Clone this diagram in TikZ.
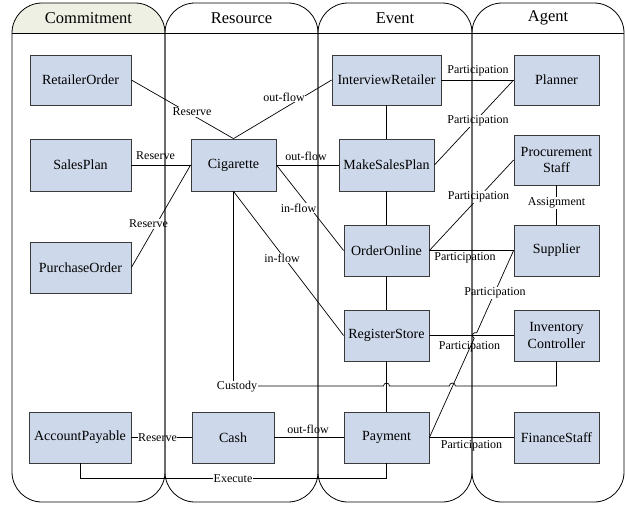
\documentclass[tikz,border=0pt]{standalone}
\usepackage{fontspec}
\setmainfont{Liberation Serif}
\usetikzlibrary{calc}
\definecolor{boxfill}{HTML}{CDD8EA}
\definecolor{boxline}{HTML}{3A3A3A}
\definecolor{hdrfill}{HTML}{EDF0E2}
\tikzset{
  ent/.style={rectangle, draw=boxline, fill=boxfill, line width=0.8pt,
    font=\fontsize{14}{16.5}\selectfont, align=center, inner sep=1pt},
  lbl/.style={font=\fontsize{12}{14}\selectfont, fill=white, inner sep=0.6pt},
  lblclear/.style={font=\fontsize{12}{14}\selectfont, inner sep=0.6pt},
  link/.style={draw=black, line width=0.7pt},
  lane/.style={draw=black, line width=0.8pt, rounded corners=30pt},
  hdr/.style={font=\fontsize{16.5}{18}\selectfont},
}
\begin{document}
\begin{tikzpicture}[x=1pt,y=-1pt]
\useasboundingbox (0,0) rectangle (626,504);

% header shading of the first lane
\fill[hdrfill] (12,33) [rounded corners=30pt] -- (12,3) -- (165,3) [sharp corners] -- (165,33) -- cycle;

% entities
\node[ent, minimum width=101pt, minimum height=50pt] (ro)   at (80.5,80)    {RetailerOrder};
\node[ent, minimum width=101pt, minimum height=52pt] (sp)   at (80.5,165)   {SalesPlan};
\node[ent, minimum width=101pt, minimum height=51pt] (po)   at (80.5,267.5) {PurchaseOrder};
\node[ent, minimum width=102pt, minimum height=51pt] (ap)   at (80,437.5)   {AccountPayable};
\node[ent, minimum width=85pt,  minimum height=52pt] (cig)  at (233.5,165)  {Cigarette};
\node[ent, minimum width=82pt,  minimum height=51pt] (cash) at (233,437.5)  {Cash};
\node[ent, minimum width=109pt, minimum height=50pt] (ir)   at (386.5,80)   {InterviewRetailer};
\node[ent, minimum width=95pt,  minimum height=52pt] (msp)  at (386.5,165)  {MakeSalesPlan};
\node[ent, minimum width=85pt,  minimum height=51pt] (oo)   at (386.5,250.5) {OrderOnline};
\node[ent, minimum width=85pt,  minimum height=51pt] (rs)   at (386.5,335.5) {RegisterStore};
\node[ent, minimum width=85pt,  minimum height=51pt] (pay)  at (386.5,437.5) {Payment};
\node[ent, minimum width=85pt,  minimum height=50pt] (pl)   at (556.5,80)   {Planner};
\node[ent, minimum width=85pt,  minimum height=50pt] (ps)   at (556.5,160)  {Procurement\\Staff};
\node[ent, minimum width=85pt,  minimum height=51pt] (su)   at (556.5,250.5) {Supplier};
\node[ent, minimum width=85pt,  minimum height=51pt] (ic)   at (556.5,335.5) {Inventory\\Controller};
\node[ent, minimum width=85pt,  minimum height=51pt] (fs)   at (556.5,437.5) {FinanceStaff};

% jump points
\coordinate (cj1) at (383.5,386);
\coordinate (cj2) at (449.4,386);
\coordinate (dj1) at (474.2,338.2);

% connectors
\begin{scope}[on background layer/.style={}]
\path[link] (ro.east) -- (cig.north);
\path[link] (ir.west) -- (cig.north);
\path[link] (sp.east) -- (cig.west);
\path[link] (po.east) -- (cig.west);
\path[link] (cig.east) -- (msp.west);
\path[link] (cig.east) -- (oo.west);
\path[link] (cig.south) -- (rs.west);
\path[link] (ir.south) -- (msp.north);
\path[link] (msp.south) -- (oo.north);
\path[link] (oo.south) -- (rs.north);
\path[link] (rs.south) -- (pay.north);
\path[link] (ir.east) -- (pl.west);
\path[link] (msp.east) -- (pl.west);
\path[link] (oo.east) -- (ps.west);
\path[link] (oo.east) -- (su.west);
\path[link] (rs.east) -- (ic.west);
\path[link] (pay.east) -- (fs.west);
\path[link] (ps.south) -- (su.north);
\path[link] (cash.east) -- (pay.west);
\path[link] (ap.east) -- (cash.west);
\path[link] (pay.east) -- (dj1) arc[start angle=245.5, end angle=65.5, radius=3pt] -- (su.west);
\path[link] (cig.south) |- (cj1) arc[start angle=180, end angle=0, radius=3pt]
   -- (cj2) arc[start angle=180, end angle=0, radius=3pt] -| (ic.south);
\path[link] (ap.south) -- ++(0,15) -| (pay.south);
\end{scope}

% connector labels
\node[lbl] (l1)  at (192,112)   {Reserve};
\node[lbl] (l2)  at (284,97)    {out-flow};
\node[lbl] (l3)  at (155.5,156) {Reserve};
\node[lbl] (l4)  at (148.5,224) {Reserve};
\node[lbl] (l5)  at (306,156)   {out-flow};
\node[lbl] (l6)  at (298.5,208) {in-flow};
\node[lbl] (l7)  at (282,258)   {in-flow};
\node[lbl] (l8)  at (237,387)   {Custody};
\node[lbl] (l9)  at (308,429)   {out-flow};
\node[lbl] (l10) at (157.5,438) {Reserve};
\node[lbl] (l11) at (233,479)   {Execute};
\node[lbl] (l12) at (478,71)    {Participation};
\node[lbl] (l13) at (478,121)   {Participation};
\node[lbl] (l14) at (478.5,197) {Participation};
\node[lblclear] (l15) at (465,257.5) {Participation};
\node[lbl] (l16) at (495,293)   {Participation};
\node[lblclear] (l17) at (469.5,347) {Participation};
\node[lblclear] (l18) at (471.5,445.5) {Participation};
\node[lbl] (l19) at (556.5,203) {Assignment};

% swimlanes
\draw[lane] (12,3) rectangle (165,502);
\draw[lane] (165,3) rectangle (318,502);
\draw[lane] (318,3) rectangle (472,502);
\draw[lane] (472,3) rectangle (624,502);
\draw[line width=0.8pt] (12,33) -- (624,33);
\node[hdr] (h1) at (88.5,18)  {Commitment};
\node[hdr] (h2) at (241.5,18) {Resource};
\node[hdr] (h3) at (395,18)   {Event};
\node[hdr] (h4) at (548,18)   {Agent};
\end{tikzpicture}
\end{document}
